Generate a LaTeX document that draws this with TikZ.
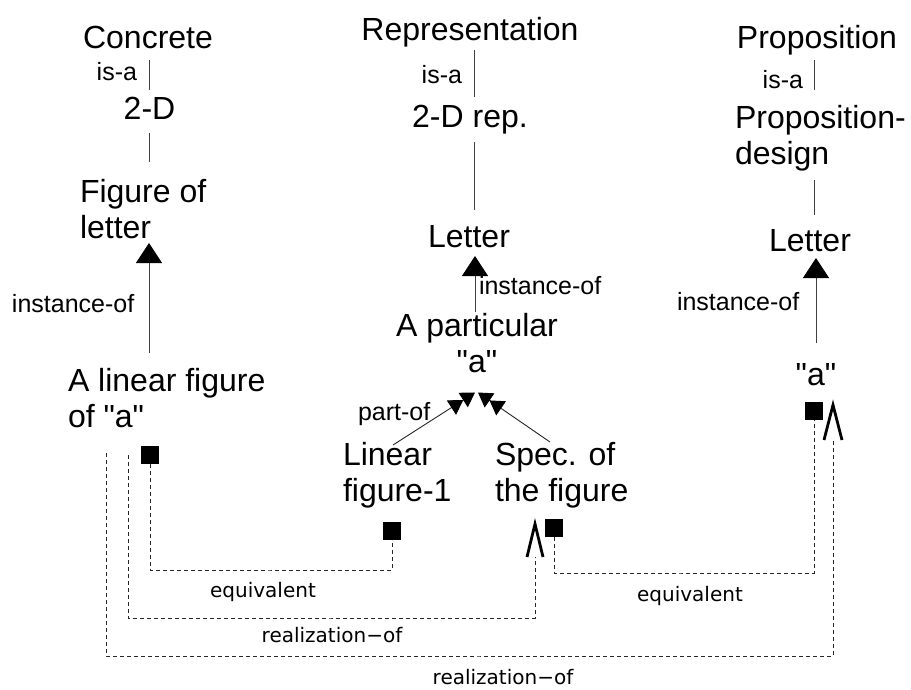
\documentclass[tikz,border=0pt]{standalone}
\usepackage{fontspec}
% plain families: no TeX quote mapping, so " stays a straight quote
\newfontfamily\arialfont{Liberation Sans}
\newfontfamily\lblfont{DejaVu Sans}
\usetikzlibrary{arrows.meta,calc}

% one- or two-line node texts, baseline at the first line
\newcommand\leftlines[1]{\begin{tabular}[t]{@{}l@{}}#1\end{tabular}}
\newcommand\centerlines[1]{\begin{tabular}[t]{@{}c@{}}#1\end{tabular}}

\tikzset{
  big/.style={inner sep=0pt, outer sep=0pt, font=\arialfont\fontsize{32}{36}\selectfont},
  small/.style={inner sep=0pt, outer sep=0pt, font=\arialfont\fontsize{25}{28}\selectfont},
  rel/.style={inner sep=0pt, font=\lblfont\fontsize{20}{23}\selectfont},
  link/.style={draw=black!75, line width=0.9pt},
  inst/.style={link, -{Triangle[length=20pt,width=26pt,color=black]}},
  partof/.style={draw=black!85, line width=0.9pt,
    -{Triangle[length=14pt,width=17pt,color=black]Triangle[length=14pt,width=17pt,color=black]}},
  box/.style={fill=black, minimum size=18pt, inner sep=0pt, outer sep=0pt},
  relline/.style={draw=black!85, line width=0.9pt, dash pattern=on 4pt off 3pt},
  vee/.style={draw=black, line width=2.8pt, miter limit=20},
}

\begin{document}
\begin{tikzpicture}[x=1pt, y=-1pt]
\useasboundingbox (0,0) rectangle (911,689);

% column axes
\coordinate (colL) at (149,0);
\coordinate (colM) at (474,0);
\coordinate (colMi) at (475,0);
\coordinate (colR) at (814,0);
\coordinate (colRi) at (816,0);

% left column
\node[big, anchor=base] (conc) at (148,48) {\centerlines{Concrete}};
\node[big, anchor=base] (twod) at (149.5,119) {\centerlines{2-D}};
\node[big, anchor=base west] (figl) at (80,202) {\leftlines{Figure of\\letter}};
\node[big, anchor=base west] (alin) at (68,391) {\leftlines{A linear figure\\of "a"}};
\node[small, anchor=base east] (isaL) at (137,80) {is-a};
\node[small, anchor=base west] (instL) at (12,312) {instance-of};

% middle column
\node[big, anchor=base] (repr) at (470,40) {\centerlines{Representation}};
\node[big, anchor=base] (tdr) at (470,127) {\centerlines{2-D rep.}};
\node[big, anchor=base] (letm) at (469,247) {\centerlines{Letter}};
\node[big, anchor=base] (parta) at (477,336) {\centerlines{A particular\\"a"}};
\node[big, anchor=base west] (linfig) at (343,465) {\leftlines{Linear\\figure-1}};
\node[big, anchor=base west] (spec) at (495,465) {\leftlines{Spec. of\\the figure}};
\node[small, anchor=base east] (isaM) at (462,83) {is-a};
\node[small, anchor=base west] (instM) at (479,294) {instance-of};
\node[small, anchor=base west] (partl) at (358,420) {part-of};

% right column
\node[big, anchor=base] (prop) at (817,48) {\centerlines{Proposition}};
\node[big, anchor=base west] (pdes) at (735,128) {\leftlines{Proposition-\\design}};
\node[big, anchor=base] (letr) at (810,251) {\centerlines{Letter}};
\node[big, anchor=base] (qa) at (816,385) {\centerlines{"a"}};
\node[small, anchor=base east] (isaR) at (803,88) {is-a};
\node[small, anchor=base west] (instR) at (677,310) {instance-of};

% port squares
\node[box] (sqA) at (150,455) {};
\node[box] (sqB) at (392,531) {};
\node[box] (sqC) at (554,528) {};
\node[box] (sqD) at (814,411) {};

% is-a links and instance-of arrows
\draw[link, shorten <=1.2pt, shorten >=3.8pt] (conc.south -| colL) -- (twod.north -| colL);
\draw[link, shorten <=3.2pt, shorten >=14.8pt] (twod.south -| colL) -- (figl.north -| colL);
\draw[inst, shorten <=12.8pt, shorten >=-5.8pt] (alin.north -| colL) -- (figl.south -| colL);

\draw[link, shorten <=-0.8pt, shorten >=4.8pt] (repr.south -| colM) -- (tdr.north -| colM);
\draw[link, shorten <=4.2pt, shorten >=11.8pt] (tdr.south -| colM) -- (letm.north -| colM);
\draw[inst, shorten <=-1.2pt, shorten >=-1.8pt] (parta.north -| colMi) -- (letm.south -| colMi);

\draw[link, shorten <=1.2pt, shorten >=12.8pt] (prop.south -| colR) -- (pdes.north -| colR);
\draw[link, shorten <=5.2pt, shorten >=10.8pt] (pdes.south -| colR) -- (letr.north -| colR);
\draw[inst, shorten <=16.8pt, shorten >=-3.8pt] (qa.north -| colRi) -- (letr.south -| colRi);

% part-of arrows
\draw[partof] ([xshift=50pt,yshift=-5.2pt]linfig.north west) -- ([xshift=-2pt,yshift=-9.7pt]parta.south);
\draw[partof] ([xshift=55pt,yshift=-2.2pt]spec.north west) -- ([xshift=1pt,yshift=-9.7pt]parta.south);

% equivalence links
\coordinate (eqA) at (270,570);
\draw[relline] (sqA.south) |- (eqA) -| (sqB.south);
\coordinate (eqB) at (680,573);
\draw[relline] (sqC.south) |- (eqB) -| (sqD.south);

% realization links
\coordinate (rz1s) at (128,455);
\coordinate (rz1m) at (330,618);
\coordinate (rz1e) at (535,557);
\draw[relline] (rz1s) |- (rz1m) -| (rz1e);
\draw[vee] ($(rz1e)+(-8,0)$) -- ($(rz1e)+(0,-33)$) -- ($(rz1e)+(8,0)$);

\coordinate (rz2s) at (106,453);
\coordinate (rz2m) at (480,656);
\coordinate (rz2e) at (833,440);
\draw[relline] (rz2s) |- (rz2m) -| (rz2e);
\draw[vee] ($(rz2e)+(-9,0)$) -- ($(rz2e)+(0,-35)$) -- ($(rz2e)+(9,0)$);

% relation labels
\node[rel] (eqlA) at (263,592) {equivalent};
\node[rel] (rzlA) at (332,635) {realization−of};
\node[rel] (eqlB) at (690,596) {equivalent};
\node[rel] (rzlB) at (503,677) {realization−of};
\end{tikzpicture}
\end{document}
